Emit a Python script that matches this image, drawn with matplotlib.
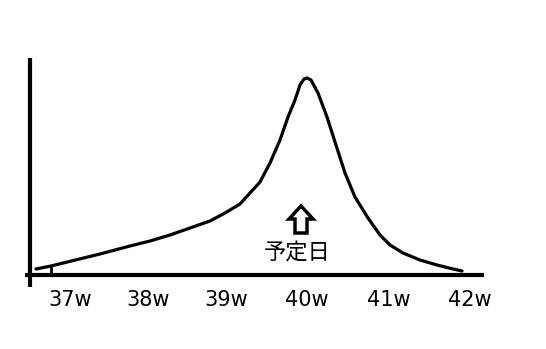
import matplotlib
matplotlib.use('Agg')
import matplotlib.pyplot as plt

plt.rcParams['font.family'] = ['Noto Sans CJK JP', 'DejaVu Sans']

# curve: week vs. relative height
weeks = [36.575, 36.7625, 37.375, 37.75, 38.0, 38.25, 38.5, 38.75, 38.9375,
         39.125, 39.25, 39.375, 39.5, 39.625, 39.725, 39.8125, 39.875, 39.925,
         39.9625, 40.0125, 40.1, 40.2125, 40.3125, 40.4375, 40.5625, 40.725,
         40.875, 41.0, 41.1625, 41.375, 41.5875, 41.7875, 41.9]
height = [5, 8, 20, 28, 33, 39, 46, 53, 61, 70, 81, 92, 111, 134, 157, 174,
          189, 195, 196, 194, 181, 157, 132, 101, 77, 56, 39, 29, 21, 14, 9,
          5, 3]

tick_weeks = [37, 37.975, 38.95, 39.96, 40.99, 42]
tick_labels = ['37w', '38w', '39w', '40w', '41w', '42w']

due_week = 39.8875
due_label = '予定日'

fig = plt.figure(figsize=(5.46, 3.49), dpi=100)
ax = fig.add_axes([0, 0, 1, 1])
ax.set_xlim(36.125, 42.95)
ax.set_ylim(-75, 274)
ax.axis('off')

# axes lines
ax.plot([36.5, 36.5], [-13, 216], color='black', lw=3, solid_capstyle='butt')
ax.plot([36.4375, 42.175], [-1, -1], color='black', lw=3, solid_capstyle='butt')

# curve
ax.plot(weeks, height, color='black', lw=2.3, solid_capstyle='round',
        solid_joinstyle='round')
ax.plot([weeks[1], weeks[1]], [0, height[1]], color='black', lw=2)

for w, lab in zip(tick_weeks, tick_labels):
    ax.text(w, -26, lab, ha='center', va='center', fontsize=15,
            family='DejaVu Sans')

# due-date arrow
ax.arrow(due_week, 41, 0, 27, width=0.15, head_width=0.3, head_length=13,
         length_includes_head=True, fc='white', ec='black', lw=2.5)
ax.text(due_week - 0.05, 22, due_label, ha='center', va='center', fontsize=16)

fig.savefig('out.png', dpi=100)
